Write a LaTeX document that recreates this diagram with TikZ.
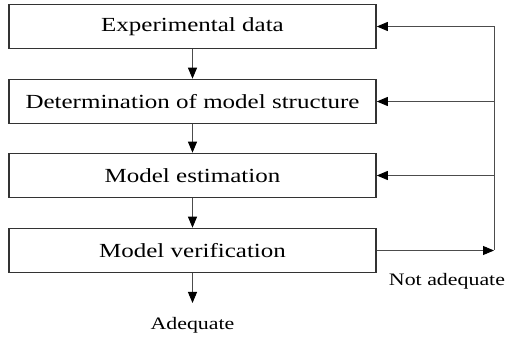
\documentclass[tikz,border=0pt]{standalone}
\usepackage{fontspec}
\setmainfont{Liberation Serif}[FakeStretch=1.25]
\usetikzlibrary{arrows.meta}
\begin{document}
\begin{tikzpicture}[x=1pt,y=-1pt,
  box/.style={draw=black!80, line width=1.6pt, minimum width=367pt, minimum height=44pt, inner sep=0pt, font=\fontsize{20}{22}\selectfont},
  conn/.style={draw=black!70, line width=0.9pt},
  arr/.style={conn, -{Triangle[length=11pt,width=9pt,fill=black,color=black]}},
  lbl/.style={font=\fontsize{17.5}{20}\selectfont, inner sep=0pt}]
\useasboundingbox (0,0) rectangle (507,339);
\node[box] (b1) at (192.5,26.5) {Experimental data};
\node[box] (b2) at (192.5,101.5) {Determination of model structure};
\node[box] (b3) at (192.5,175.5) {Model estimation};
\node[box] (b4) at (192.5,250.5) {Model verification};
\coordinate (vt) at (494,26.5);
\coordinate (vb) at (494,250.5);
\coordinate (adq) at (192.5,303);
\node[lbl] (ad) at (192.5,325) {Adequate};
\node[lbl] (na) at (447,281) {Not adequate};
\draw[arr] (b1) -- (b2);
\draw[arr] (b2) -- (b3);
\draw[arr] (b3) -- (b4);
\draw[arr] (b4) -- (adq);
\draw[conn] (vt) -- (vb);
\draw[arr] (b4.east) -- (vb);
\draw[arr] (vt) -- (b1.east);
\draw[arr] (b2.east -| vt) -- (b2.east);
\draw[arr] (b3.east -| vt) -- (b3.east);
\end{tikzpicture}
\end{document}
